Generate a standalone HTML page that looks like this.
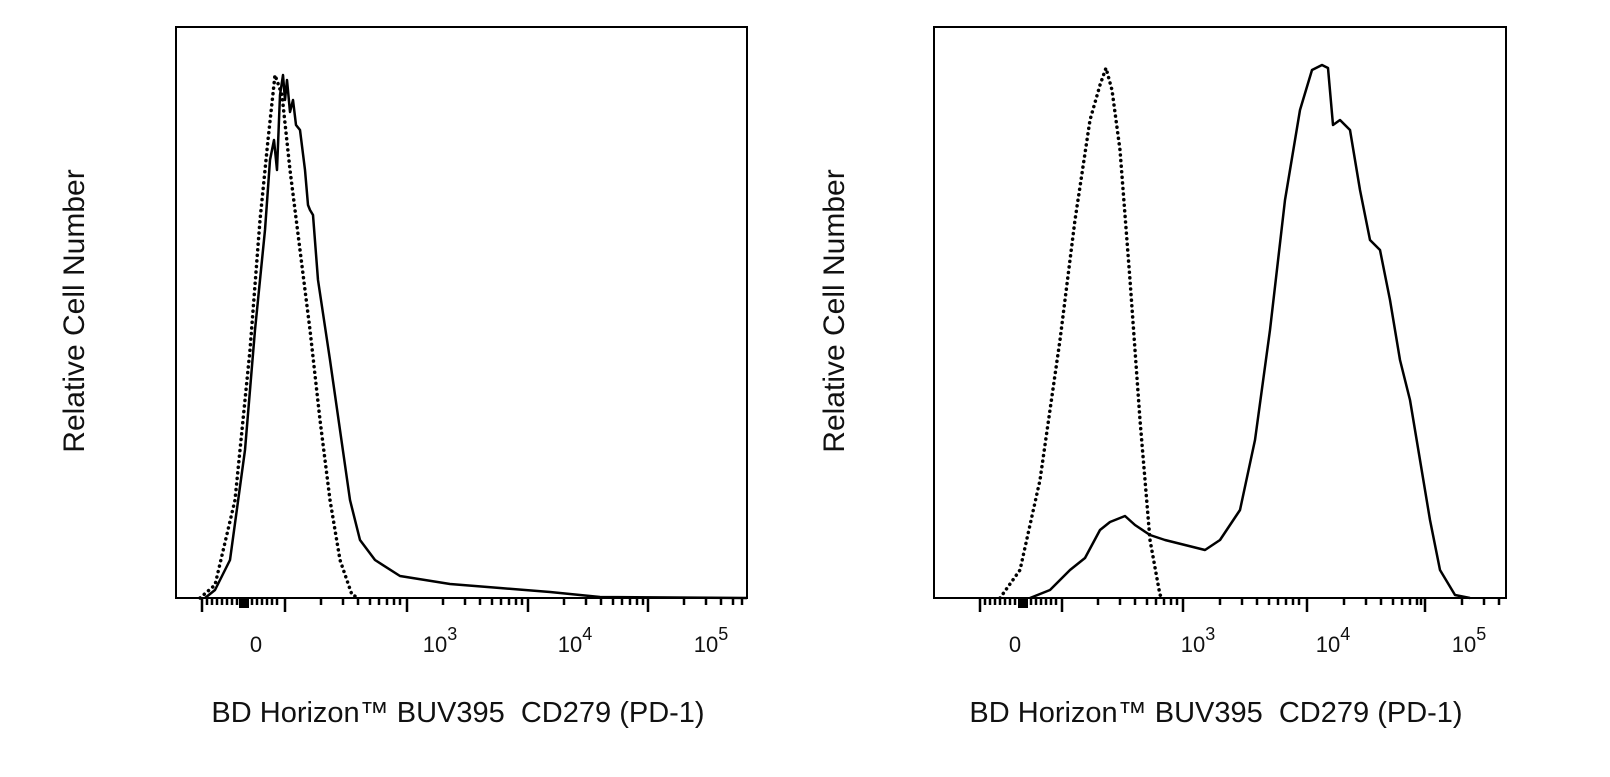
<!DOCTYPE html>
<html><head><style>
body{margin:0;background:#fff;}
svg text{font-family:"Liberation Sans",Arial,sans-serif;fill:#111;}
</style></head><body>
<svg width="1610" height="772" viewBox="0 0 1610 772" xmlns="http://www.w3.org/2000/svg">
<g fill="none" stroke="#000" stroke-width="2">
<rect x="176" y="27" width="571" height="571"/>
<rect x="934" y="27" width="572" height="571"/>
</g>
<g stroke="#000" stroke-width="2.5">
<path d="M202 598v14M285 598v14M407 598v14M528 598v14M648 598v14"/>
<path d="M207 598v7M212 598v7M217 598v7M222 598v7M227 598v7M232 598v7M237 598v7M252 598v7M257 598v7M262 598v7M267 598v7M272 598v7M277 598v7"/>
<path d="M321 598v7M343 598v7M358 598v7M370 598v7M379 598v7M387 598v7M394 598v7M400 598v7"/>
<path d="M443 598v7M465 598v7M480 598v7M492 598v7M501 598v7M509 598v7M516 598v7M522 598v7"/>
<path d="M564 598v7M586 598v7M601 598v7M613 598v7M622 598v7M630 598v7M637 598v7M643 598v7"/>
<path d="M684 598v7M706 598v7M721 598v7M733 598v7M742 598v7"/>
</g>
<rect x="239" y="598" width="10" height="10" fill="#000"/>
<g stroke="#000" stroke-width="2.5">
<path d="M980 598v14M1062 598v14M1183 598v14M1307 598v14M1425 598v14"/>
<path d="M985 598v7M990 598v7M995 598v7M1000 598v7M1005 598v7M1010 598v7M1015 598v7M1031 598v7M1036 598v7M1041 598v7M1046 598v7M1051 598v7M1056 598v7"/>
<path d="M1098 598v7M1120 598v7M1135 598v7M1147 598v7M1156 598v7M1164 598v7M1171 598v7M1177 598v7"/>
<path d="M1220 598v7M1242 598v7M1257 598v7M1269 598v7M1278 598v7M1286 598v7M1293 598v7M1299 598v7"/>
<path d="M1344 598v7M1366 598v7M1381 598v7M1393 598v7M1402 598v7M1410 598v7M1417 598v7M1421 598v7"/>
<path d="M1462 598v7M1484 598v7M1499 598v7"/>
</g>
<rect x="1018" y="598" width="10" height="10" fill="#000"/>
<polyline fill="none" stroke="#000" stroke-width="2.5" stroke-linejoin="round" points="205,598 215,590 230,560 245,450 255,330 265,230 270,160 274,140 277,170 280,95 283,75 285,100 287,80 290,112 293,100 296,125 300,130 305,170 308,205 310,210 313,215 318,280 330,360 340,430 350,500 360,540 375,560 400,576 450,584 500,588 550,592 600,597 747,598"/>
<polyline fill="none" stroke="#000" stroke-width="3.5" stroke-linecap="round" stroke-dasharray="0.1 5.5" points="200,598 215,585 235,500 250,350 260,220 268,140 275,75 282,95 290,170 300,250 310,330 320,420 330,500 340,560 352,595 360,598"/>
<polyline fill="none" stroke="#000" stroke-width="3.5" stroke-linecap="round" stroke-dasharray="0.1 5.5" points="1000,598 1020,570 1040,480 1060,340 1075,220 1090,120 1100,85 1106,68 1112,90 1120,150 1130,280 1140,420 1150,540 1160,595 1165,598"/>
<polyline fill="none" stroke="#000" stroke-width="2.5" stroke-linejoin="round" points="1030,598 1050,590 1070,570 1085,558 1100,530 1110,522 1125,516 1135,525 1150,535 1165,540 1185,545 1205,550 1220,540 1240,510 1255,440 1270,330 1285,200 1300,110 1312,70 1322,65 1328,68 1333,125 1340,120 1350,130 1360,190 1370,240 1380,250 1390,300 1400,360 1410,400 1420,460 1430,520 1440,570 1455,595 1470,598"/>
<g font-size="22" text-anchor="middle">
<text x="256" y="652">0</text>
<text x="440" y="652">10<tspan dy="-12" font-size="18">3</tspan></text>
<text x="575" y="652">10<tspan dy="-12" font-size="18">4</tspan></text>
<text x="711" y="652">10<tspan dy="-12" font-size="18">5</tspan></text>
<text x="1015" y="652">0</text>
<text x="1198" y="652">10<tspan dy="-12" font-size="18">3</tspan></text>
<text x="1333" y="652">10<tspan dy="-12" font-size="18">4</tspan></text>
<text x="1469" y="652">10<tspan dy="-12" font-size="18">5</tspan></text>
</g>
<g font-size="29" text-anchor="middle">
<text x="458" y="722" xml:space="preserve">BD Horizon™ BUV395  CD279 (PD-1)</text>
<text x="1216" y="722" xml:space="preserve">BD Horizon™ BUV395  CD279 (PD-1)</text>
<text transform="translate(84,311) rotate(-90)" font-size="30">Relative Cell Number</text>
<text transform="translate(844,311) rotate(-90)" font-size="30">Relative Cell Number</text>
</g>
</svg>
</body></html>
